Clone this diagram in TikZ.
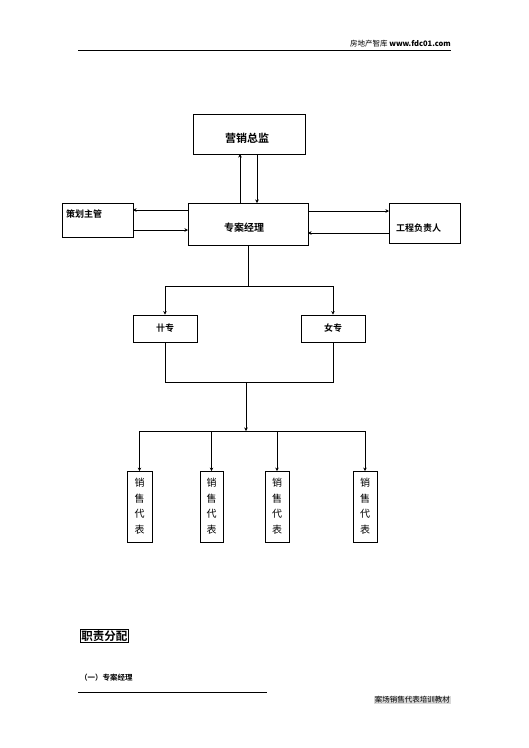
\documentclass[tikz,border=0pt]{standalone}
\usepackage{fontspec}
\newfontfamily\cjk{Noto Sans CJK SC}
\newfontfamily\cjkb{Noto Sans CJK SC Bold}
\usetikzlibrary{arrows.meta}
\begin{document}
\begin{tikzpicture}[x=1pt,y=-1pt,
  box/.style={draw,line width=0.8pt,inner sep=0pt},
  lbl/.style={font=\cjkb\fontsize{9}{10}\selectfont,inner sep=0pt},
  conn/.style={line width=0.7pt},
  arr/.style={conn,-{Stealth[length=3.5pt,width=3.5pt]}}]
\useasboundingbox (0,0) rectangle (529,748);
% header
\node[anchor=south east,inner sep=0pt,font=\cjk\fontsize{7.5}{8}\selectfont] (hdr) at (451,47) {房地产智库 \textbf{www.fdc01.com}};
\coordinate (h1) at (78,50); \coordinate (h2) at (451,50);
\draw[line width=0.6pt] (h1) -- (h2);
% top boxes
\node[box,minimum width=112pt,minimum height=40pt] (gm) at (249,134) {};
\node[lbl,font=\cjkb\fontsize{11}{12}\selectfont] (gmt) at (247,138) {营销总监};
\node[box,minimum width=120pt,minimum height=42pt] (pm) at (248,224) {};
\node[lbl,font=\cjkb\fontsize{10}{11}\selectfont] (pmt) at (244,228) {专案经理};
\node[box,minimum width=71pt,minimum height=34pt] (ch) at (97.5,220) {};
\node[lbl,anchor=west] (cht) at (66,214) {策划主管};
\node[box,minimum width=71pt,minimum height=40pt] (gc) at (424.5,223) {};
\node[lbl,anchor=west] (gct) at (396,228) {工程负责人};
% arrows between top level
\draw[arr] (240,203) -- (240,154);
\draw[arr] (257,154) -- (257,203);
\draw[arr] (188,210) -- (133,210);
\draw[arr] (133,230) -- (188,230);
\draw[arr] (308,211) -- (389,211);
\draw[arr] (389,233) -- (308,233);
% second level
\node[box,minimum width=64pt,minimum height=27pt] (a) at (165,328.5) {};
\node[lbl] (at) at (165,328) {卄专};
\node[box,minimum width=64pt,minimum height=27pt] (b) at (333,328.5) {};
\node[lbl] (bt) at (333,328) {女专};
\coordinate (j1) at (248,286);
\draw[conn] (pm.south) -- (j1);
\draw[conn] (165,286) -- (333,286);
\draw[arr] (165,286) -- (a.north);
\draw[arr] (333,286) -- (b.north);
\coordinate (j2) at (246,382);
\draw[conn] (a.south) -- (165,382) -- (333,382) -- (b.south);
\coordinate (j3) at (246,431);
\draw[arr] (j2) -- (j3);
\draw[conn] (139.5,431) -- (365,431);
% sales reps
\foreach \n/\x/\w in {s1/139.5/25, s2/211.5/23, s3/277/24, s4/365/24}{
  \node[box,minimum width=\w pt,minimum height=71pt] (\n) at (\x,507) {};
  \node[inner sep=0pt,font=\cjk\fontsize{10}{15.5}\selectfont,align=center] (\n t) at (\x,506) {销\\售\\代\\表};
  \draw[arr] (\x,431) -- (\n.north);
}
% bottom texts
\node[draw,line width=0.8pt,inner sep=1pt,anchor=west,font=\cjkb\fontsize{11.5}{12}\selectfont] (zz) at (80,636) {职责分配};
\node[anchor=west,inner sep=0pt,font=\cjkb\fontsize{7.5}{8}\selectfont] (z1) at (80,678) {（一）专案经理};
\coordinate (l1) at (78,692); \coordinate (l2) at (267,692);
\draw[line width=0.7pt] (l1) -- (l2);
\node[anchor=east,fill=black!15,inner sep=1pt,font=\cjk\fontsize{7.5}{8}\selectfont] (ft) at (451,700) {案场销售代表培训教材};
\end{tikzpicture}
\end{document}
